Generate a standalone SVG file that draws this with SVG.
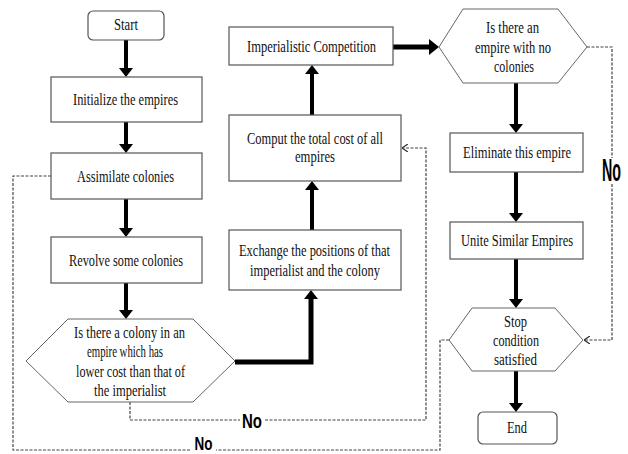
<svg xmlns="http://www.w3.org/2000/svg" width="628" height="454" viewBox="0 0 628 454">
<style>
.box{fill:#fff;stroke:#555;stroke-width:1.2}
.hex{fill:#fff;stroke:#666;stroke-width:1}
.t{font-family:"Liberation Serif","Times New Roman",serif;font-size:17px;fill:#111;text-anchor:middle}
.no{font-family:"Liberation Sans",Arial,sans-serif;font-weight:bold;fill:#000;text-anchor:middle}
.thick{fill:none;stroke:#000;stroke-width:4}
.thicker{fill:none;stroke:#000;stroke-width:5}
.dash{fill:none;stroke:#444;stroke-width:1.2;stroke-dasharray:3 1.5}
</style>
<defs>
<marker id="ah" viewBox="0 0 9 14" refX="0" refY="7" markerWidth="9" markerHeight="14" markerUnits="userSpaceOnUse" orient="auto" preserveAspectRatio="none">
<path d="M0,0 L9,7 L0,14 z" fill="#000"/>
</marker>
<marker id="ahb" viewBox="0 0 10 16" refX="0" refY="8" markerWidth="10" markerHeight="16" markerUnits="userSpaceOnUse" orient="auto" preserveAspectRatio="none">
<path d="M0,0 L10,8 L0,16 z" fill="#000"/>
</marker>
<marker id="oa" viewBox="0 0 6 8" refX="6" refY="4" markerWidth="6" markerHeight="8" markerUnits="userSpaceOnUse" orient="auto" preserveAspectRatio="none">
<path d="M0,0 L6,4 L0,8" fill="none" stroke="#333" stroke-width="1.3"/>
</marker>
</defs>
<rect width="628" height="454" fill="#fff"/>

<g id="connectors">
<line class="thick" x1="126" y1="40" x2="126" y2="68" marker-end="url(#ah)"/>
<line class="thick" x1="126" y1="122" x2="126" y2="144" marker-end="url(#ah)"/>
<line class="thick" x1="126" y1="199" x2="126" y2="228" marker-end="url(#ah)"/>
<line class="thick" x1="126" y1="283" x2="126" y2="310" marker-end="url(#ah)"/>
<polyline class="thicker" points="235,362 311,362 311,299" marker-end="url(#ah)"/>
<line class="thick" x1="312" y1="230" x2="312" y2="190" marker-end="url(#ah)"/>
<line class="thick" x1="312" y1="115" x2="312" y2="74" marker-end="url(#ah)"/>
<line class="thicker" x1="393" y1="47" x2="429" y2="47" marker-end="url(#ahb)"/>
<line class="thick" x1="516" y1="83" x2="516" y2="124" marker-end="url(#ah)"/>
<line class="thick" x1="516" y1="172" x2="516" y2="213" marker-end="url(#ah)"/>
<line class="thick" x1="516" y1="259" x2="516" y2="299" marker-end="url(#ah)"/>
<line class="thick" x1="516" y1="371" x2="516" y2="403" marker-end="url(#ah)"/>
<polyline class="dash" points="130,402 130,420 426,420 426,148 402,148" marker-end="url(#oa)"/>
<polyline class="dash" points="449,340 440,340 440,450 13,450 13,176 51,176"/>
<polyline class="dash" points="587,47 612,47 612,340 584,340" marker-end="url(#oa)"/>
<rect x="240" y="412" width="24" height="17" fill="#fff"/>
<text class="no" x="252" y="428" font-size="20" textLength="20" lengthAdjust="spacingAndGlyphs">No</text>
<rect x="191" y="438" width="25" height="16" fill="#fff"/>
<text class="no" transform="translate(203.5,450) scale(0.75,1)" x="0" y="0" font-size="18">No</text>
<rect x="600" y="158" width="23" height="25" fill="#fff"/>
<text class="no" transform="translate(611.5,181) scale(0.62,1.35)" x="0" y="0" font-size="23">No</text>
</g>

<g id="start">
<rect class="box" x="88" y="11" width="76" height="29" rx="5"/>
<text class="t" x="126" y="30" textLength="24" lengthAdjust="spacingAndGlyphs">Start</text>
</g>
<g id="initialize">
<rect class="box" x="51" y="77" width="151" height="45"/>
<text class="t" x="125.5" y="105" textLength="105" lengthAdjust="spacingAndGlyphs">Initialize the empires</text>
</g>
<g id="assimilate">
<rect class="box" x="51" y="153" width="151" height="46"/>
<text class="t" x="125.5" y="182" textLength="97" lengthAdjust="spacingAndGlyphs">Assimilate colonies</text>
</g>
<g id="revolve">
<rect class="box" x="51" y="237" width="151" height="46"/>
<text class="t" x="126" y="266" textLength="114" lengthAdjust="spacingAndGlyphs">Revolve some colonies</text>
</g>
<g id="decision-colony">
<polygon class="hex" points="26,361 68,319 193,319 235,361 193,402 68,402"/>
<text class="t" x="129.5" y="338" textLength="111" lengthAdjust="spacingAndGlyphs">Is there a colony in an</text>
<text class="t" x="125" y="357" textLength="76" lengthAdjust="spacingAndGlyphs">empire which has</text>
<text class="t" x="130.5" y="377" textLength="109" lengthAdjust="spacingAndGlyphs">lower cost than that of</text>
<text class="t" x="130" y="396" textLength="72" lengthAdjust="spacingAndGlyphs">the imperialist</text>
</g>
<g id="exchange">
<rect class="box" x="229" y="230" width="172" height="60"/>
<text class="t" x="314.5" y="256" textLength="151" lengthAdjust="spacingAndGlyphs">Exchange the positions of that</text>
<text class="t" x="315" y="276" textLength="130" lengthAdjust="spacingAndGlyphs">imperialist and the colony</text>
</g>
<g id="compute">
<rect class="box" x="229" y="115" width="172" height="66"/>
<text class="t" x="315" y="144" textLength="136" lengthAdjust="spacingAndGlyphs">Comput the total cost of all</text>
<text class="t" x="315" y="162" textLength="40" lengthAdjust="spacingAndGlyphs">empires</text>
</g>
<g id="competition">
<rect class="box" x="229" y="27" width="164" height="38"/>
<text class="t" x="311.5" y="52" textLength="129" lengthAdjust="spacingAndGlyphs">Imperialistic Competition</text>
</g>
<g id="decision-empire">
<polygon class="hex" points="439,47 463,9 558,9 587,47 558,83 463,83"/>
<text class="t" x="512.5" y="33" textLength="53" lengthAdjust="spacingAndGlyphs">Is there an</text>
<text class="t" x="513" y="53" textLength="76" lengthAdjust="spacingAndGlyphs">empire with no</text>
<text class="t" x="514" y="72" textLength="40" lengthAdjust="spacingAndGlyphs">colonies</text>
</g>
<g id="eliminate">
<rect class="box" x="450" y="133" width="133" height="39"/>
<text class="t" x="517" y="158" textLength="108" lengthAdjust="spacingAndGlyphs">Eliminate this empire</text>
</g>
<g id="unite">
<rect class="box" x="450" y="222" width="133" height="37"/>
<text class="t" x="517" y="246" textLength="112" lengthAdjust="spacingAndGlyphs">Unite Similar Empires</text>
</g>
<g id="decision-stop">
<polygon class="hex" points="449,340 472,308 555,308 583,340 555,371 472,371"/>
<text class="t" x="515.5" y="327" textLength="23" lengthAdjust="spacingAndGlyphs">Stop</text>
<text class="t" x="516" y="346" textLength="46" lengthAdjust="spacingAndGlyphs">condition</text>
<text class="t" x="515.5" y="365" textLength="43" lengthAdjust="spacingAndGlyphs">satisfied</text>
</g>
<g id="end">
<rect class="box" x="478" y="412" width="79" height="32" rx="5"/>
<text class="t" x="517" y="433" textLength="20" lengthAdjust="spacingAndGlyphs">End</text>
</g>
</svg>
